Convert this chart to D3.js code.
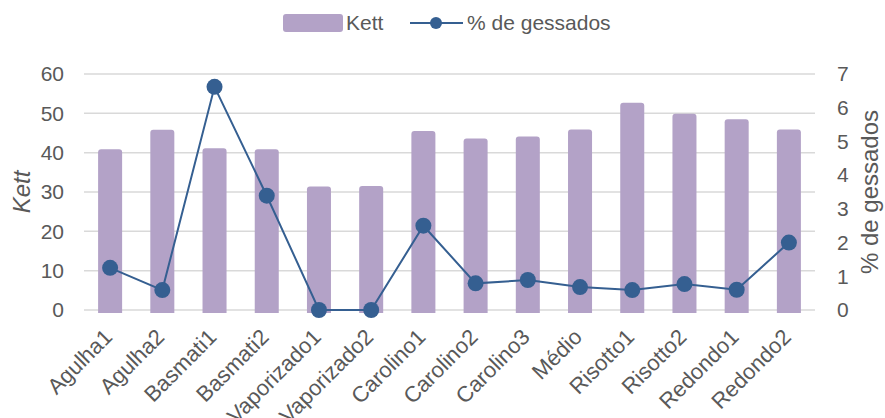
<!DOCTYPE html>
<html><head><meta charset="utf-8">
<script src="https://cdn.jsdelivr.net/npm/d3@7"></script>
<style>body{margin:0;background:#fff}text{font-family:"Liberation Sans",Arial,sans-serif;fill:#595959}</style>
</head><body><svg id="c" width="885" height="418"></svg>
<script>
const categories = ["Agulha1","Agulha2","Basmati1","Basmati2","Vaporizado1","Vaporizado2","Carolino1","Carolino2","Carolino3","Médio","Risotto1","Risotto2","Redondo1","Redondo2"];
const kett = [40.9,45.8,41.1,40.9,31.4,31.5,45.5,43.6,44.1,45.9,52.7,49.9,48.5,45.9];
const gessados = [1.25,0.59,6.62,3.39,0,0,2.5,0.79,0.89,0.68,0.59,0.77,0.6,2.0];
const leftTicks = [0,10,20,30,40,50,60];
const rightTicks = [0,1,2,3,4,5,6,7];

const svg = d3.select("#c");
const L=84,R=815,T=74,B=310;
const x = d3.scaleBand().domain(categories).range([L,R]).paddingInner(0.54).paddingOuter(0.27);
const yL = d3.scaleLinear().domain([0,60]).range([B,T]);
const yR = d3.scaleLinear().domain([0,7]).range([B,T]);
const barC="#b3a2c7", lineC="#355f91";

// gridlines
svg.append("g").selectAll("line").data(leftTicks).join("line")
  .attr("x1",L).attr("x2",R).attr("y1",d=>yL(d)).attr("y2",d=>yL(d))
  .attr("stroke","#d9d9d9").attr("stroke-width",1.5);

// bars with rounded top
const r=3;
svg.append("g").selectAll("path").data(kett).join("path")
  .attr("fill",barC)
  .attr("d",(d,i)=>{const x0=x(categories[i]),w=x.bandwidth(),y0=yL(d),yb=yL(0)+3;
    return `M${x0},${yb}V${y0+r}Q${x0},${y0} ${x0+r},${y0}H${x0+w-r}Q${x0+w},${y0} ${x0+w},${y0+r}V${yb}Z`;});

// line
const cx = (d,i)=>x(categories[i])+x.bandwidth()/2;
svg.append("path").datum(gessados)
  .attr("fill","none").attr("stroke",lineC).attr("stroke-width",2)
  .attr("d",d3.line().x(cx).y(d=>yR(d)));
svg.append("g").selectAll("circle").data(gessados).join("circle")
  .attr("cx",cx).attr("cy",d=>yR(d)).attr("r",8).attr("fill",lineC);

// left axis
const la = svg.append("g").attr("transform",`translate(${L-20},0)`)
  .call(d3.axisLeft(yL).tickValues(leftTicks).tickFormat(d3.format("d")).tickSize(0).tickPadding(0));
la.select(".domain").remove();
la.selectAll("text").style("font-size","21px").attr("fill","#595959").attr("font-family","Liberation Sans, Arial");

// right axis
const ra = svg.append("g").attr("transform",`translate(${R+22},0)`)
  .call(d3.axisRight(yR).tickValues(rightTicks).tickFormat(d3.format("d")).tickSize(0).tickPadding(0));
ra.select(".domain").remove();
ra.selectAll("text").style("font-size","21px").attr("fill","#595959").attr("font-family","Liberation Sans, Arial");

// axis titles
svg.append("text").attr("transform",`translate(30,${(T+B)/2}) rotate(-90)`)
  .attr("text-anchor","middle").style("font-size","24px").style("font-style","italic").text("Kett");
svg.append("text").attr("transform",`translate(878,${(T+B)/2}) rotate(-90)`)
  .attr("text-anchor","middle").style("font-size","24px").text("% de gessados");

// x labels
svg.append("g").selectAll("text").data(categories).join("text")
  .attr("transform",(d,i)=>`translate(${cx(0,i)-2},${B+23}) rotate(-45)`)
  .attr("text-anchor","end").attr("dy","0.35em").style("font-size","22px").text(d=>d);

// legend
const lg = svg.append("g");
lg.append("rect").attr("x",283).attr("y",14).attr("width",60).attr("height",18).attr("rx",3).attr("fill",barC);
lg.append("text").attr("x",346).attr("y",30).style("font-size","21px").text("Kett");
lg.append("line").attr("x1",410).attr("x2",463).attr("y1",23).attr("y2",23).attr("stroke",lineC).attr("stroke-width",2);
lg.append("circle").attr("cx",436).attr("cy",23).attr("r",6).attr("fill",lineC);
lg.append("text").attr("x",467).attr("y",30).style("font-size","21px").text("% de gessados");
</script></body></html>
